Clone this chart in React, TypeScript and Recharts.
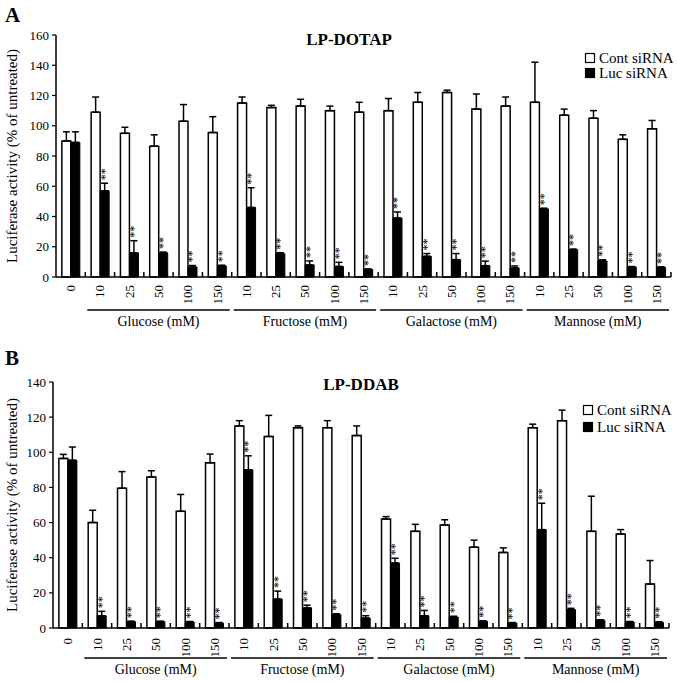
import React from 'react';
import { BarChart, Bar, XAxis, YAxis, ErrorBar, LabelList } from 'recharts';

// x categories: untreated + 4 sugars x 5 concentrations
const doses = ['0', '10', '25', '50', '100', '150', '10', '25', '50', '100', '150', '10', '25', '50', '100', '150', '10', '25', '50', '100', '150'];
const sugars = ['Glucose (mM)', 'Fructose (mM)', 'Galactose (mM)', 'Mannose (mM)'];
const seriesNames = ['Cont siRNA', 'Luc siRNA'];

// LP-DOTAP
const dotapCont = [90, 109, 95, 86.5, 103, 95.5, 115, 112, 113, 110, 109, 110, 115.5, 122, 111, 113, 115.5, 107, 105, 91, 98];
const dotapContErr = [6, 10, 4, 7.5, 11, 10.5, 4, 1.5, 4.5, 3, 6.5, 8, 6.5, 1.5, 10, 6, 26.5, 4, 5, 3, 5.5];
const dotapLuc = [89, 57, 16, 16, 6.6, 7.3, 46, 15.5, 8, 7, 5, 39, 13.7, 11.5, 7.5, 6, 45, 18, 10.6, 6.6, 6.4];
const dotapLucErr = [7, 5, 8, 0.5, 1, 0.5, 13, 0.6, 2.6, 2.7, 0.3, 4, 1.8, 4, 3, 1.3, 0.5, 0.5, 0.8, 0.3, 0.3];
const dotapTicks = [0, 20, 40, 60, 80, 100, 120, 140, 160];

// LP-DDAB
const ddabCont = [96.5, 60, 79.6, 86, 66.4, 94, 115, 109, 114, 114, 109.5, 62, 55, 58.6, 46, 43, 114, 118, 55, 53.5, 25];
const ddabContErr = [2.3, 7, 9.4, 3.5, 9.6, 5, 3, 12, 1, 4, 5.5, 1.4, 4, 3, 4, 2.6, 2, 6, 20, 2.5, 13.4];
const ddabLuc = [95.5, 7, 3.6, 3.6, 3.4, 2.8, 90, 16.5, 11.5, 7.6, 5.7, 37, 7, 6.2, 3.8, 2.8, 56, 10.4, 4.4, 3.4, 3.2];
const ddabLucErr = [7.5, 2.5, 0.3, 0.3, 0.3, 0.3, 8, 4.5, 1.5, 0.5, 1.3, 2.7, 3, 0.5, 0.3, 0.3, 15, 0.8, 0.3, 0.3, 0.3];
const ddabTicks = [0, 20, 40, 60, 80, 100, 120, 140];

const FONT = 'Liberation Serif, Times New Roman, serif';
const W = 677;

interface PanelProps {
  height: number;
  top: number;
  left: number;
  right: number;
  xAxisHeight: number;
  labelGap: number;
  groupGap: number;
  cont: number[];
  contErr: number[];
  luc: number[];
  lucErr: number[];
  ticks: number[];
}

const Panel = ({ height, top, left, right, xAxisHeight, labelGap, groupGap, cont, contErr, luc, lucErr, ticks }: PanelProps) => {
  const data = doses.map((d, i) => ({
    dose: d,
    cont: cont[i],
    contErr: [0, contErr[i]],
    luc: luc[i],
    lucErr: [0, lucErr[i]],
  }));
  const axisY = height - xAxisHeight;
  const band = (W - left - right) / doses.length;
  const groupY = axisY + groupGap;

  const renderTick = (props: any) => {
    const { x, payload, index } = props;
    const ly = axisY + labelGap;
    const g = (index - 1) % 5;
    return (
      <g>
        <line x1={x + band / 2} x2={x + band / 2} y1={axisY} y2={axisY - 5} stroke="#000" strokeWidth={1.5} />
        <text x={x} y={ly} transform={`rotate(-90 ${x} ${ly})`} textAnchor="end" dominantBaseline="central" fontSize={13} fontFamily={FONT} fill="#000">
          {payload.value}
        </text>
        {index > 0 && g === 2 && (
          <g>
            <line x1={x - 2.5 * band + 2} x2={x + 2.5 * band - 2} y1={groupY} y2={groupY} stroke="#000" strokeWidth={1.5} />
            <text x={x} y={groupY + 16} textAnchor="middle" fontSize={14} fontFamily={FONT} fill="#000">
              {sugars[Math.floor((index - 1) / 5)]}
            </text>
          </g>
        )}
      </g>
    );
  };

  const renderStars = (props: any) => {
    const { x, y, width, height: h, value, index } = props;
    if (!index || !value) return null;
    const errTop = y - lucErr[index] * (h / value);
    const cx = x + width / 2;
    const sy = errTop - 3;
    return (
      <text x={cx} y={sy} transform={`rotate(-90 ${cx} ${sy})`} textAnchor="start" dominantBaseline="central" fontSize={12} fontFamily={FONT} fill="#000">
        **
      </text>
    );
  };

  const renderYLabel = (props: any) => {
    const vb = props.viewBox || {};
    const cy = vb.y + vb.height / 2;
    return (
      <text x={12} y={cy} transform={`rotate(-90 12 ${cy})`} textAnchor="middle" dominantBaseline="central" fontSize={15} fontFamily={FONT} fill="#000">
        Luciferase activity (% of untreated)
      </text>
    );
  };

  return (
    <BarChart
      width={W}
      height={height}
      data={data}
      margin={{ top, right, left: 0, bottom: 0 }}
      barCategoryGap="20%"
      barGap={0}
      style={{ fontFamily: FONT }}
    >
      <XAxis
        dataKey="dose"
        interval={0}
        tickLine={false}
        axisLine={{ stroke: '#000', strokeWidth: 1.5 }}
        height={xAxisHeight}
        tick={renderTick}
      />
      <YAxis
        domain={[0, ticks[ticks.length - 1]]}
        ticks={ticks}
        width={left}
        tickSize={4}
        tickMargin={3}
        axisLine={{ stroke: '#000', strokeWidth: 1.5 }}
        tickLine={{ stroke: '#000', strokeWidth: 1.2 }}
        tick={{ fill: '#000', fontSize: 13, fontFamily: FONT }}
        label={{ position: 'insideLeft', content: renderYLabel }}
      />
      <Bar dataKey="cont" name={seriesNames[0]} fill="#fff" stroke="#000" strokeWidth={1.5} isAnimationActive={false}>
        <ErrorBar dataKey="contErr" width={3.5} stroke="#000" strokeWidth={1.5} direction="y" />
      </Bar>
      <Bar dataKey="luc" name={seriesNames[1]} fill="#000" stroke="#000" strokeWidth={1} isAnimationActive={false}>
        <ErrorBar dataKey="lucErr" width={3.5} stroke="#000" strokeWidth={1.5} direction="y" />
        <LabelList dataKey="luc" content={renderStars} />
      </Bar>
    </BarChart>
  );
};

const LegendBox = ({ x, y, step }: { x: number; y: number; step: number }) => (
  <g>
    <rect x={x + 0.5} y={y + 0.5} width={9} height={9} fill="#fff" stroke="#000" strokeWidth={1.2} />
    <text x={x + 14} y={y + 10} fontSize={15} fontFamily={FONT} fill="#000">{seriesNames[0]}</text>
    <rect x={x + 0.5} y={y + step + 0.5} width={9} height={9} fill="#000" stroke="#000" strokeWidth={1.2} />
    <text x={x + 14} y={y + step + 10} fontSize={15} fontFamily={FONT} fill="#000">{seriesNames[1]}</text>
  </g>
);

export default function App() {
  return (
    <div style={{ position: 'absolute', left: 0, top: 0, width: W, height: 682, background: '#fff', fontFamily: FONT }}>
      <div style={{ position: 'absolute', left: 0, top: 0 }}>
        <Panel
          height={330}
          top={35}
          left={56}
          right={6}
          xAxisHeight={53}
          labelGap={8}
          groupGap={33}
          cont={dotapCont}
          contErr={dotapContErr}
          luc={dotapLuc}
          lucErr={dotapLucErr}
          ticks={dotapTicks}
        />
      </div>
      <div style={{ position: 'absolute', left: 0, top: 330 }}>
        <Panel
          height={352}
          top={52}
          left={53}
          right={8}
          xAxisHeight={54}
          labelGap={10}
          groupGap={30}
          cont={ddabCont}
          contErr={ddabContErr}
          luc={ddabLuc}
          lucErr={ddabLucErr}
          ticks={ddabTicks}
        />
      </div>
      <svg width={W} height={682} style={{ position: 'absolute', left: 0, top: 0, pointerEvents: 'none' }}>
        <text x={5} y={22} fontSize={21} fontWeight="bold" fontFamily={FONT} fill="#000">A</text>
        <text x={349} y={45} fontSize={17} fontWeight="bold" fontFamily={FONT} textAnchor="middle" fill="#000">LP-DOTAP</text>
        <LegendBox x={585} y={53} step={15} />
        <text x={5} y={365} fontSize={21} fontWeight="bold" fontFamily={FONT} fill="#000">B</text>
        <text x={361} y={390} fontSize={17} fontWeight="bold" fontFamily={FONT} textAnchor="middle" fill="#000">LP-DDAB</text>
        <LegendBox x={583} y={405} step={17} />
      </svg>
    </div>
  );
}
